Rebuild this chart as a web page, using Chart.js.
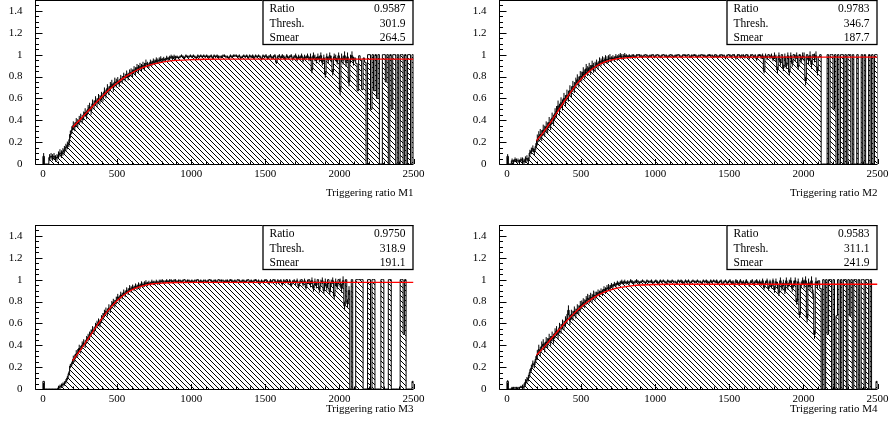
<!DOCTYPE html>
<html lang="en">
<head>
<meta charset="UTF-8">
<title>Triggering ratio M1-M4</title>
<script src="https://cdn.jsdelivr.net/npm/chart.js@4.4.0/dist/chart.umd.min.js"></script>
<style>
  html, body { margin: 0; padding: 0; background: #fff; }
  body { width: 889px; height: 432px; position: relative; overflow: hidden; }
  canvas { position: absolute; }
</style>
</head>
<body>
<canvas id="m1" width="445" height="216" style="left:0px;top:0px"></canvas>
<canvas id="m2" width="425" height="216" style="left:464px;top:0px"></canvas>
<canvas id="m3" width="445" height="207" style="left:0px;top:225px"></canvas>
<canvas id="m4" width="425" height="207" style="left:464px;top:225px"></canvas>

<script>
// binning: 250 bins of width 10 starting at 0
const binStart = 0;
const binWidth = 10;
const xRange = [-50, 2500];
const yRange = [0, 1.5];

const xTickValues = [0, 500, 1000, 1500, 2000, 2500];
const xTickLabels = ['0', '500', '1000', '1500', '2000', '2500'];
const yTickValues = [0, 0.2, 0.4, 0.6, 0.8, 1, 1.2, 1.4];
const yTickLabels = ['0', '0.2', '0.4', '0.6', '0.8', '1', '1.2', '1.4'];

const statLabels = ['Ratio', 'Thresh.', 'Smear'];
const statsM1 = ['0.9587', '301.9', '264.5'];
const statsM2 = ['0.9783', '346.7', '187.7'];
const statsM3 = ['0.9750', '318.9', '191.1'];
const statsM4 = ['0.9583', '311.1', '241.9'];

const titleM1 = 'Triggering ratio M1';
const titleM2 = 'Triggering ratio M2';
const titleM3 = 'Triggering ratio M3';
const titleM4 = 'Triggering ratio M4';

// fitted curve
const fitX  = [200, 250, 300, 350, 400, 450, 500, 550, 600, 650, 700, 750, 800, 850, 900, 1000, 1100, 1250, 2500];
const fitM1 = [0.336, 0.405, 0.477, 0.549, 0.618, 0.683, 0.741, 0.792, 0.834, 0.869, 0.895, 0.915, 0.930, 0.940, 0.947, 0.955, 0.958, 0.959, 0.959];
const fitM2 = [0.213, 0.297, 0.393, 0.496, 0.598, 0.694, 0.776, 0.842, 0.892, 0.927, 0.949, 0.963, 0.970, 0.975, 0.977, 0.978, 0.978, 0.978, 0.978];
const fitM3 = [0.260, 0.350, 0.449, 0.551, 0.648, 0.735, 0.807, 0.865, 0.906, 0.934, 0.953, 0.963, 0.969, 0.972, 0.974, 0.975, 0.975, 0.975, 0.975];
const fitM4 = [0.310, 0.383, 0.462, 0.540, 0.617, 0.687, 0.750, 0.803, 0.847, 0.881, 0.907, 0.925, 0.937, 0.946, 0.951, 0.956, 0.958, 0.958, 0.958];

// bin contents, one row per 100 units
const binsM1 = [
  0.07,0,0,0,0.06,0.07,0.06,0.07,0.05,0.06,
  0.08,0.10,0.09,0.11,0.13,0.15,0.17,0.19,0.27,0.31,
  0.35,0.34,0.38,0.37,0.40,0.42,0.41,0.44,0.47,0.45,
  0.50,0.52,0.49,0.55,0.54,0.58,0.56,0.60,0.59,0.62,
  0.61,0.66,0.64,0.69,0.67,0.71,0.73,0.70,0.75,0.74,
  0.76,0.74,0.78,0.77,0.80,0.79,0.82,0.80,0.83,0.84,
  0.83,0.86,0.85,0.88,0.87,0.89,0.88,0.90,0.89,0.92,
  0.91,0.90,0.93,0.92,0.94,0.93,0.95,0.94,0.95,0.96,
  0.95,0.96,0.95,0.97,0.96,0.97,0.98,0.97,0.98,0.97,
  0.98,0.97,0.98,0.99,0.98,0.97,0.99,0.98,0.98,0.99,
  0.98,0.99,0.98,0.97,0.99,0.98,0.99,0.98,0.99,0.98,
  0.99,0.98,0.98,0.99,0.97,0.99,0.98,0.99,0.98,0.98,
  0.98,0.99,0.99,0.98,0.98,0.97,0.99,0.98,0.99,0.99,
  0.99,0.98,0.99,0.97,0.98,0.99,0.98,0.99,0.97,0.99,
  0.98,0.99,0.97,0.99,0.98,0.99,0.98,0.96,0.99,0.98,
  0.99,0.97,0.98,0.99,0.97,0.98,0.99,0.93,0.98,0.99,
  0.97,0.99,0.98,0.96,0.99,0.97,0.98,0.99,0.96,0.98,
  0.99,0.96,0.98,0.97,0.99,0.95,0.98,0.97,0.99,0.96,
  0.98,0.86,0.99,0.97,0.95,0.98,0.96,0.99,0.93,0.97,
  0.82,0.98,0.95,0.99,0.96,0.84,0.98,0.97,0.94,0.99,
  0.67,0.97,0.95,0.99,0.93,0.98,0.75,0.96,0.99,0.94,
  0.97,0.92,0.67,0.99,0.95,0.68,0.97,0.93,0,1,
  1,0.5,1,0.67,1,0.6,1,0,0,1,
  1,0.75,1,0,1,0.5,1,1,0,1,
  0,1,1,0,1,0,1,1,0,1
];
const binsM2 = [
  0.07,0,0,0.03,0.02,0.04,0.03,0.03,0.02,0.04,
  0.03,0.02,0.04,0.05,0.03,0.10,0.12,0.14,0.11,0.16,
  0.22,0.25,0.27,0.26,0.31,0.30,0.34,0.33,0.38,0.36,
  0.42,0.40,0.46,0.48,0.53,0.50,0.56,0.54,0.60,0.58,
  0.63,0.62,0.67,0.66,0.71,0.70,0.74,0.77,0.75,0.80,
  0.80,0.84,0.82,0.87,0.85,0.88,0.86,0.90,0.88,0.89,
  0.92,0.90,0.94,0.93,0.95,0.94,0.96,0.95,0.96,0.97,
  0.96,0.97,0.96,0.98,0.97,0.98,0.99,0.98,0.98,0.99,
  0.99,0.98,0.99,0.98,0.99,0.99,0.98,0.99,1,0.99,
  0.99,0.98,0.99,1,0.99,0.98,0.99,0.99,1,0.98,
  0.99,1,0.99,0.98,0.99,1,0.99,0.99,0.98,0.99,
  1,0.99,0.98,0.99,0.99,1,0.99,0.98,0.99,1,
  0.99,0.99,1,0.98,0.99,0.99,1,0.99,0.98,0.99,
  0.99,1,0.99,0.99,0.98,0.99,1,0.99,0.99,0.98,
  1,0.99,0.98,0.99,1,0.99,0.99,0.97,0.99,1,
  0.99,0.98,1,0.99,0.97,0.99,1,0.98,0.99,0.99,
  0.98,1,0.99,0.97,0.99,1,0.98,0.99,0.96,0.99,
  1,0.98,0.99,0.85,0.99,0.97,1,0.98,0.99,0.96,
  0.99,0.97,0.86,0.99,0.93,1,0.88,0.98,0.90,0.99,
  0.84,0.99,0.92,1,0.97,0.99,0.89,1,0.95,0.99,
  0.98,0.76,1,0.95,0.99,0.91,1,0.97,0.99,0.85,
  0.98,1,0,0,0,0,1,0,1,1,
  0.5,1,0,1,0,1,1,0,1,0,
  1,1,0,1,0,0,1,0,0,1,
  0,1,0,0,1,0,1,0,1,1
];
const binsM3 = [
  0.07,0,0,0,0,0,0,0,0,0,
  0.01,0.02,0.03,0.04,0.05,0.07,0.10,0.14,0.21,0.23,
  0.27,0.28,0.32,0.33,0.37,0.36,0.40,0.42,0.41,0.45,
  0.47,0.49,0.51,0.54,0.53,0.57,0.59,0.61,0.60,0.64,
  0.66,0.69,0.71,0.70,0.74,0.73,0.77,0.79,0.78,0.81,
  0.84,0.82,0.86,0.85,0.88,0.87,0.90,0.89,0.92,0.91,
  0.93,0.92,0.94,0.93,0.95,0.94,0.96,0.95,0.96,0.97,
  0.96,0.97,0.96,0.98,0.97,0.97,0.98,0.97,0.98,0.98,
  0.99,0.98,0.98,0.99,0.98,0.99,0.99,0.98,0.99,0.99,
  0.98,0.99,0.99,0.98,0.99,1,0.98,0.99,0.99,0.98,
  0.99,0.98,0.99,0.99,1,0.98,0.99,0.98,0.99,0.99,
  0.98,0.99,1,0.99,0.98,0.99,0.99,0.98,1,0.99,
  0.99,0.99,0.98,0.99,0.99,0.98,1,0.99,0.98,0.99,
  0.98,1,0.99,0.98,0.99,0.99,0.98,0.99,1,0.98,
  0.99,0.98,0.99,1,0.98,0.99,0.97,0.99,0.98,0.99,
  1,0.98,0.97,0.99,0.98,1,0.99,0.97,0.99,0.98,
  0.99,0.96,0.99,0.98,1,0.97,0.99,0.95,0.98,0.99,
  0.97,0.99,0.94,0.98,1,0.96,0.99,0.93,0.98,1,
  0.96,0.99,0.92,0.98,0.95,1,0.91,0.97,0.99,0.90,
  0.98,0.93,1,0.89,0.97,0.99,0.85,0.98,0.94,1,
  0.97,0.92,0.99,0.76,1,0.78,0.90,0,1,0,
  0,1,1,1,1,1,0,0,0,1,
  1,0,1,1,0,0,0,0,1,1,
  0,0,0,1,1,0,0,0,0,0,
  0,1,1,0.5,1,0,0,0,0,0.07
];
const binsM4 = [
  0.07,0,0,0.01,0.01,0.01,0.01,0.01,0.01,0.02,
  0.01,0.02,0.06,0.08,0.10,0.15,0.19,0.23,0.22,0.27,
  0.31,0.36,0.34,0.39,0.41,0.38,0.43,0.42,0.46,0.44,
  0.48,0.46,0.51,0.53,0.50,0.56,0.55,0.59,0.58,0.62,
  0.64,0.72,0.63,0.68,0.67,0.71,0.69,0.73,0.72,0.76,
  0.77,0.79,0.78,0.81,0.83,0.82,0.84,0.83,0.86,0.85,
  0.86,0.88,0.87,0.89,0.88,0.91,0.90,0.92,0.93,0.92,
  0.95,0.94,0.96,0.95,0.97,0.96,0.97,0.98,0.97,0.98,
  0.97,0.98,0.97,0.99,0.98,0.97,0.98,0.99,0.98,0.97,
  0.98,0.99,0.98,0.97,0.99,0.98,0.98,0.99,0.97,0.98,
  0.99,0.98,0.97,0.99,0.98,0.99,0.98,0.97,0.99,0.98,
  0.98,0.99,0.98,0.98,0.97,0.99,0.98,0.99,0.98,0.97,
  0.99,0.98,0.99,0.97,0.98,0.99,0.98,0.98,0.99,0.98,
  0.98,0.97,0.99,0.98,0.99,0.98,0.97,0.99,0.98,0.99,
  0.98,0.99,0.97,0.98,0.99,0.96,0.98,0.99,0.97,0.98,
  0.99,0.97,0.98,0.95,0.99,0.98,0.96,0.99,0.97,0.98,
  0.96,0.99,0.97,0.95,0.98,0.99,0.96,0.98,0.99,0.97,
  0.98,0.96,0.99,0.93,0.97,0.99,0.92,0.98,0.94,0.99,
  0.91,0.98,0.95,0.88,0.99,0.93,0.97,0.90,0.99,0.94,
  0.97,0.99,0.92,0.96,0.99,0.80,0.98,0.68,0.95,0.99,
  0.96,0.99,0.65,0.97,0.94,0.99,0.87,0.50,0.98,0.95,
  0.99,0.92,0,1,0,1,0.5,1,1,0,
  1,0,0.67,1,0,1,0,1,1,0,
  1,0.67,1,0,1,1,0,1,0,1,
  1,0,1,1,0,1,0,0,0,0.07
];

// error bar half-lengths, one value per row of 10 bins
const errM1 = [0.03,0.035,0.04,0.04,0.04,0.035,0.035,0.025,0.02,0.012,0.012,0.012,0.012,0.012,0.012,0.015,0.015,0.02,0.03,0.03,0.04,0,0,0,0];
const errM2 = [0.02,0.03,0.05,0.05,0.05,0.045,0.035,0.025,0.015,0.012,0.012,0.012,0.012,0.012,0.012,0.015,0.015,0.02,0.03,0.03,0.04,0,0,0,0];
const errM3 = [0,0.02,0.035,0.035,0.035,0.03,0.025,0.02,0.015,0.012,0.012,0.012,0.012,0.012,0.012,0.015,0.015,0.02,0.03,0.03,0.04,0,0,0,0];
const errM4 = [0.01,0.03,0.045,0.045,0.045,0.04,0.03,0.02,0.015,0.012,0.012,0.012,0.012,0.012,0.012,0.015,0.015,0.02,0.03,0.03,0.04,0,0,0,0];

Chart.defaults.font.family = '"Liberation Serif", "Times New Roman", serif';
Chart.defaults.font.size = 11;
Chart.defaults.color = '#000';

// ROOT-like "\\\\" hatch
function makeHatch() {
  const s = 5;
  const p = document.createElement('canvas');
  p.width = s; p.height = s;
  const c = p.getContext('2d');
  c.strokeStyle = '#000';
  c.lineWidth = 1;
  c.beginPath();
  c.moveTo(-1, -1); c.lineTo(s + 1, s + 1);
  c.moveTo(-1, s - 1); c.lineTo(1, s + 1);
  c.moveTo(s - 1, -1); c.lineTo(s + 1, 1);
  c.stroke();
  return document.createElement('canvas').getContext('2d').createPattern(p, 'repeat');
}
const hatch = makeHatch();

// no extra room for half labels at the ends of the axes
function noPadding(s) {
  s.paddingTop = 0;
  s.paddingBottom = 0;
  s.paddingLeft = 0;
  s.paddingRight = 0;
}

// vertical error bars on the histogram bins
const errorPlugin = {
  id: 'binErrors',
  afterDatasetDraw(chart, args, opts) {
    if (args.index !== 1) return;
    const { ctx, chartArea: a, scales: { x, y } } = chart;
    ctx.save();
    ctx.beginPath();
    ctx.rect(a.left, a.top, a.right - a.left, a.bottom - a.top);
    ctx.clip();
    ctx.strokeStyle = '#000';
    ctx.lineWidth = 1;
    ctx.beginPath();
    opts.bins.forEach((v, i) => {
      const e = opts.errors[Math.floor(i / 10)];
      if (!e || v <= 0 || v >= 1) return;
      const px = x.getPixelForValue(binStart + (i + 0.5) * binWidth);
      ctx.moveTo(px, y.getPixelForValue(v - e));
      ctx.lineTo(px, y.getPixelForValue(v + e));
    });
    ctx.stroke();
    ctx.restore();
  }
};

// frame, inward ticks and stats box
const framePlugin = {
  id: 'rootFrame',
  afterDatasetsDraw(chart) {
    const { ctx, chartArea: a, scales: { x, y } } = chart;
    ctx.save();
    ctx.strokeStyle = '#000';
    ctx.lineWidth = 1;
    ctx.beginPath();
    ctx.moveTo(a.left, a.top + 0.5); ctx.lineTo(a.right, a.top + 0.5);
    ctx.moveTo(a.left, a.top); ctx.lineTo(a.left, a.bottom + 0.5); ctx.lineTo(a.right, a.bottom + 0.5);
    for (let k = 0; k <= 25; k++) {
      const px = Math.round(x.getPixelForValue(k * 100)) + 0.5;
      const len = k % 5 === 0 ? 5 : 2.5;
      ctx.moveTo(px, a.bottom); ctx.lineTo(px, a.bottom - len);
    }
    for (let k = 0; k <= 30; k++) {
      const py = Math.round(y.getPixelForValue(k * 0.05)) + 0.5;
      const len = k % 4 === 0 ? 7 : 3.5;
      ctx.moveTo(a.left, py); ctx.lineTo(a.left + len, py);
    }
    ctx.stroke();
    ctx.restore();
  },
  afterDraw(chart, args, opts) {
    const { ctx, chartArea: a } = chart;
    const bw = 151, bh = 45;
    const bx = a.right - bw, by = a.top;
    ctx.save();
    ctx.fillStyle = '#fff';
    ctx.fillRect(bx, by, bw, bh);
    ctx.strokeStyle = '#000';
    ctx.lineWidth = 1.3;
    ctx.strokeRect(bx + 0.5, by + 0.5, bw - 1, bh - 1);
    ctx.fillStyle = '#000';
    ctx.font = '11.5px "Liberation Serif", serif';
    ctx.textBaseline = 'middle';
    const rows = [8.5, 23.5, 38];
    statLabels.forEach((lab, i) => {
      ctx.textAlign = 'left';
      ctx.fillText(lab, bx + 7, by + rows[i]);
      ctx.textAlign = 'right';
      ctx.fillText(opts.values[i], bx + bw - 8, by + rows[i]);
    });
    ctx.restore();
  }
};

function makePanel(id, bins, errs, fitY, stats, title, rightPad, axisHeight) {
  const hist = [{ x: binStart, y: 0 }];
  bins.forEach((v, i) => hist.push({ x: binStart + i * binWidth, y: v }));
  const end = binStart + bins.length * binWidth;
  hist.push({ x: end, y: bins[bins.length - 1] });
  hist.push({ x: end, y: 0 });

  const fit = fitX.map((xv, i) => ({ x: xv, y: fitY[i] }));

  new Chart(document.getElementById(id), {
    type: 'line',
    data: {
      datasets: [
        {
          data: fit,
          borderColor: '#ff0000',
          borderWidth: 1.3,
          pointRadius: 0,
          fill: false,
          cubicInterpolationMode: 'monotone',
          order: 1
        },
        {
          data: hist,
          stepped: 'before',
          borderColor: '#000',
          borderWidth: 1,
          backgroundColor: hatch,
          fill: 'origin',
          pointRadius: 0,
          order: 2
        }
      ]
    },
    options: {
      responsive: false,
      animation: false,
      events: [],
      layout: { padding: { left: 0, top: 0, right: rightPad, bottom: 0 } },
      plugins: {
        legend: { display: false },
        tooltip: { enabled: false },
        rootFrame: { values: stats },
        binErrors: { bins: bins, errors: errs }
      },
      scales: {
        x: {
          type: 'linear',
          min: xRange[0],
          max: xRange[1],
          grid: { display: false, drawTicks: false },
          border: { display: false },
          ticks: {
            padding: 4,
            maxRotation: 0,
            autoSkip: false,
            callback: (v, i) => xTickLabels[i]
          },
          afterBuildTicks: s => { s.ticks = xTickValues.map(v => ({ value: v })); },
          afterFit: s => { s.height = axisHeight; noPadding(s); },
          title: {
            display: true,
            text: title,
            align: 'end',
            font: { size: 11 },
            padding: { top: 0, bottom: 16 }
          }
        },
        y: {
          type: 'linear',
          min: yRange[0],
          max: yRange[1],
          grid: { display: false, drawTicks: false },
          border: { display: false },
          ticks: {
            padding: 13,
            autoSkip: false,
            callback: (v, i) => yTickLabels[i]
          },
          afterBuildTicks: s => { s.ticks = yTickValues.map(v => ({ value: v })); },
          afterFit: s => { s.width = 35.5; noPadding(s); }
        }
      }
    },
    plugins: [errorPlugin, framePlugin]
  });
}

makePanel('m1', binsM1, errM1, fitM1, statsM1, titleM1, 31.5, 52);
makePanel('m2', binsM2, errM2, fitM2, statsM2, titleM2, 11.5, 52);
makePanel('m3', binsM3, errM3, fitM3, statsM3, titleM3, 31.5, 43);
makePanel('m4', binsM4, errM4, fitM4, statsM4, titleM4, 11.5, 43);
</script>
</body>
</html>
